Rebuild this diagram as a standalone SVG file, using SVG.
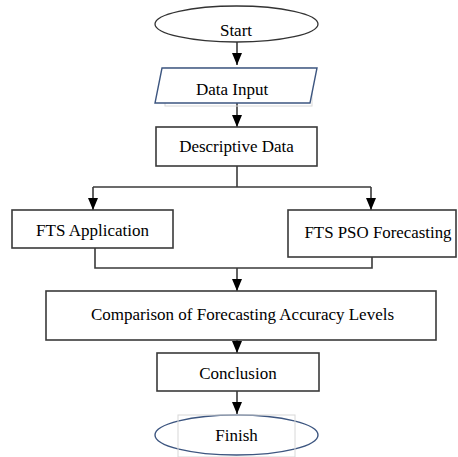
<svg xmlns="http://www.w3.org/2000/svg" width="458" height="457" viewBox="0 0 458 457">
<defs>
<marker id="arr" markerUnits="userSpaceOnUse" markerWidth="12" markerHeight="10" refX="12" refY="5" orient="auto">
<path d="M0,0 L12,5 L0,10 Z" fill="#000"/>
</marker>
<style>
.box{fill:#fff;stroke:#3a3a3a;stroke-width:1.6}
.term{fill:#fff;stroke:#3d5680;stroke-width:1.4}
.faint{fill:none;stroke:#d8d8d8;stroke-width:1}
.lbl{font-family:"Liberation Serif","Times New Roman",serif;font-size:17px;fill:#000;text-anchor:middle}
.ln{fill:none;stroke:#3a3a3a;stroke-width:1.6}
</style>
</defs>
<rect width="458" height="457" fill="#fff"/>
<g id="connectors">
<path class="ln" d="M237,42 V65" marker-end="url(#arr)"/>
<path class="ln" d="M237,103 V127" marker-end="url(#arr)"/>
<path class="ln" d="M237,166 V187"/>
<path class="ln" d="M93,187 H371"/>
<path class="ln" d="M93,187 V210" marker-end="url(#arr)"/>
<path class="ln" d="M371,187 V210" marker-end="url(#arr)"/>
<path class="ln" d="M95,248 V268 H372 V257"/>
<path class="ln" d="M237,268 V291" marker-end="url(#arr)"/>
<path class="ln" d="M237,340 V353" marker-end="url(#arr)"/>
<path class="ln" d="M237,391 V414" marker-end="url(#arr)"/>
</g>
<g id="start">
<ellipse cx="236.5" cy="24" rx="81.5" ry="18" fill="#fff" stroke="#333" stroke-width="1.3"/>
<text class="lbl" x="236" y="36">Start</text>
</g>
<g id="data-input">
<rect class="faint" x="165" y="68" width="147" height="38"/>
<polygon class="term" points="162,68 317,68 310,103 155,103"/>
<text class="lbl" x="232" y="95">Data Input</text>
</g>
<g id="descriptive-data">
<rect class="box" x="156" y="127" width="161" height="39"/>
<text class="lbl" x="236.5" y="152">Descriptive Data</text>
</g>
<g id="fts-application">
<rect class="box" x="12" y="210" width="161" height="38"/>
<text class="lbl" x="92.5" y="236">FTS Application</text>
</g>
<g id="fts-pso">
<rect class="box" x="288" y="210" width="168" height="47"/>
<text class="lbl" x="378" y="238" textLength="147" lengthAdjust="spacingAndGlyphs">FTS PSO Forecasting</text>
</g>
<g id="comparison">
<rect class="box" x="46" y="291" width="390" height="49"/>
<text class="lbl" x="242.5" y="320">Comparison of Forecasting Accuracy Levels</text>
</g>
<g id="conclusion">
<rect class="box" x="157" y="353" width="162" height="38"/>
<text class="lbl" x="238" y="379">Conclusion</text>
</g>
<g id="finish">
<ellipse class="term" cx="236.5" cy="435" rx="81.5" ry="20"/>
<rect class="faint" x="178" y="415" width="117" height="42"/>
<text class="lbl" x="236.5" y="441">Finish</text>
</g>
</svg>
